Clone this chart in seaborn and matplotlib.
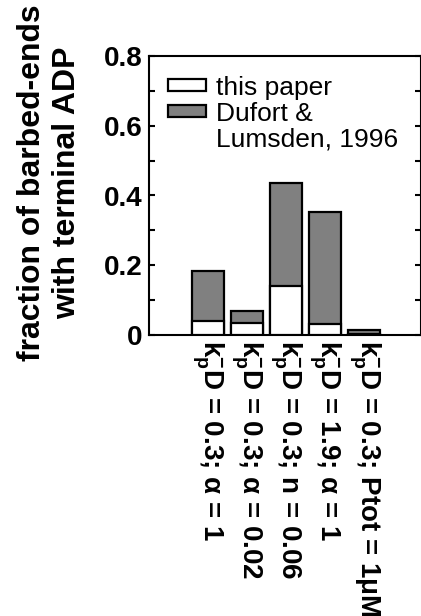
import numpy as np
import pandas as pd
import matplotlib
matplotlib.use("Agg")
import matplotlib.pyplot as plt
from matplotlib.patches import Patch
from matplotlib.ticker import MultipleLocator, FixedLocator
import seaborn as sns

# Conditions along the x axis
conditions = [
    r"k$^{-}_{p}$D = 0.3; α = 1",
    r"k$^{-}_{p}$D = 0.3; α = 0.02",
    r"k$^{-}_{p}$D = 0.3; n = 0.06",
    r"k$^{-}_{p}$D = 1.9; α = 1",
    r"k$^{-}_{p}$D = 0.3; Ptot = 1μM",
]
# Fraction of barbed ends with terminal ADP
this_paper = [0.041, 0.033, 0.140, 0.031, 0.003]
dufort_lumsden = [0.184, 0.069, 0.435, 0.352, 0.015]

y_ticks = [0, 0.2, 0.4, 0.6, 0.8]
y_tick_labels = ["0", "0.2", "0.4", "0.6", "0.8"]

sns.set_theme(style="ticks")
plt.rcParams["font.family"] = ["Liberation Sans", "DejaVu Sans"]
plt.rcParams["mathtext.fontset"] = "custom"
plt.rcParams["mathtext.rm"] = "Liberation Sans:bold"
plt.rcParams["mathtext.it"] = "Liberation Sans:bold"
plt.rcParams["mathtext.bf"] = "Liberation Sans:bold"
plt.rcParams["mathtext.default"] = "rm"
for key in ["text.color", "axes.labelcolor", "xtick.color", "ytick.color",
            "axes.edgecolor"]:
    plt.rcParams[key] = "black"

df = pd.DataFrame({"condition": conditions,
                   "this paper": this_paper,
                   "Dufort & Lumsden": dufort_lumsden})

fig = plt.figure(figsize=(4.21, 6.16), dpi=100)
ax = fig.add_axes([149 / 421, 1 - 335 / 616, 272 / 421, (335 - 56) / 616])

gray = "#808080"
sns.barplot(data=df, x="condition", y="Dufort & Lumsden", color=gray,
            width=0.82, edgecolor="black", linewidth=1.6, saturation=1,
            ax=ax, zorder=2)
sns.barplot(data=df, x="condition", y="this paper", color="white",
            width=0.82, edgecolor="black", linewidth=1.6, saturation=1,
            ax=ax, zorder=3)

ax.set_xlim(-1.5, 5.45)
ax.set_ylim(0, 0.8)
ax.yaxis.set_major_locator(FixedLocator(y_ticks))
ax.set_yticklabels(y_tick_labels, fontsize=20, fontweight="bold")
ax.yaxis.set_minor_locator(MultipleLocator(0.1))
ax.tick_params(axis="y", which="both", direction="in", length=4.5,
               width=1.5, left=True, right=True, pad=4.5, color="black")
ax.tick_params(axis="x", length=0, pad=3.5)
ax.set_xticks(range(len(conditions)))
ax.set_xticklabels(conditions, rotation=-90, ha="center", va="top",
                   fontsize=20, fontweight="bold")
ax.set_xlabel("")

ax.set_ylabel("fraction of barbed-ends\nwith terminal ADP",
              fontsize=23, fontweight="bold", linespacing=1.25)
ax.yaxis.set_label_coords(-0.245, 0.545)

for side in ["left", "right", "top", "bottom"]:
    ax.spines[side].set_visible(True)
    ax.spines[side].set_linewidth(1.5)
    ax.spines[side].set_color("black")

handles = [
    Patch(facecolor="white", edgecolor="black", linewidth=1.6),
    Patch(facecolor=gray, edgecolor="black", linewidth=1.6),
    Patch(facecolor="none", edgecolor="none"),
]
labels = ["this paper", "Dufort &", "Lumsden, 1996"]
ax.legend(handles, labels, loc="upper left", bbox_to_anchor=(0.07, 0.93),
          frameon=False, fontsize=19, handlelength=1.45, handleheight=0.35,
          handletextpad=0.35, labelspacing=0.08, borderaxespad=0,
          borderpad=0)

fig.savefig("out.png", dpi=100)
